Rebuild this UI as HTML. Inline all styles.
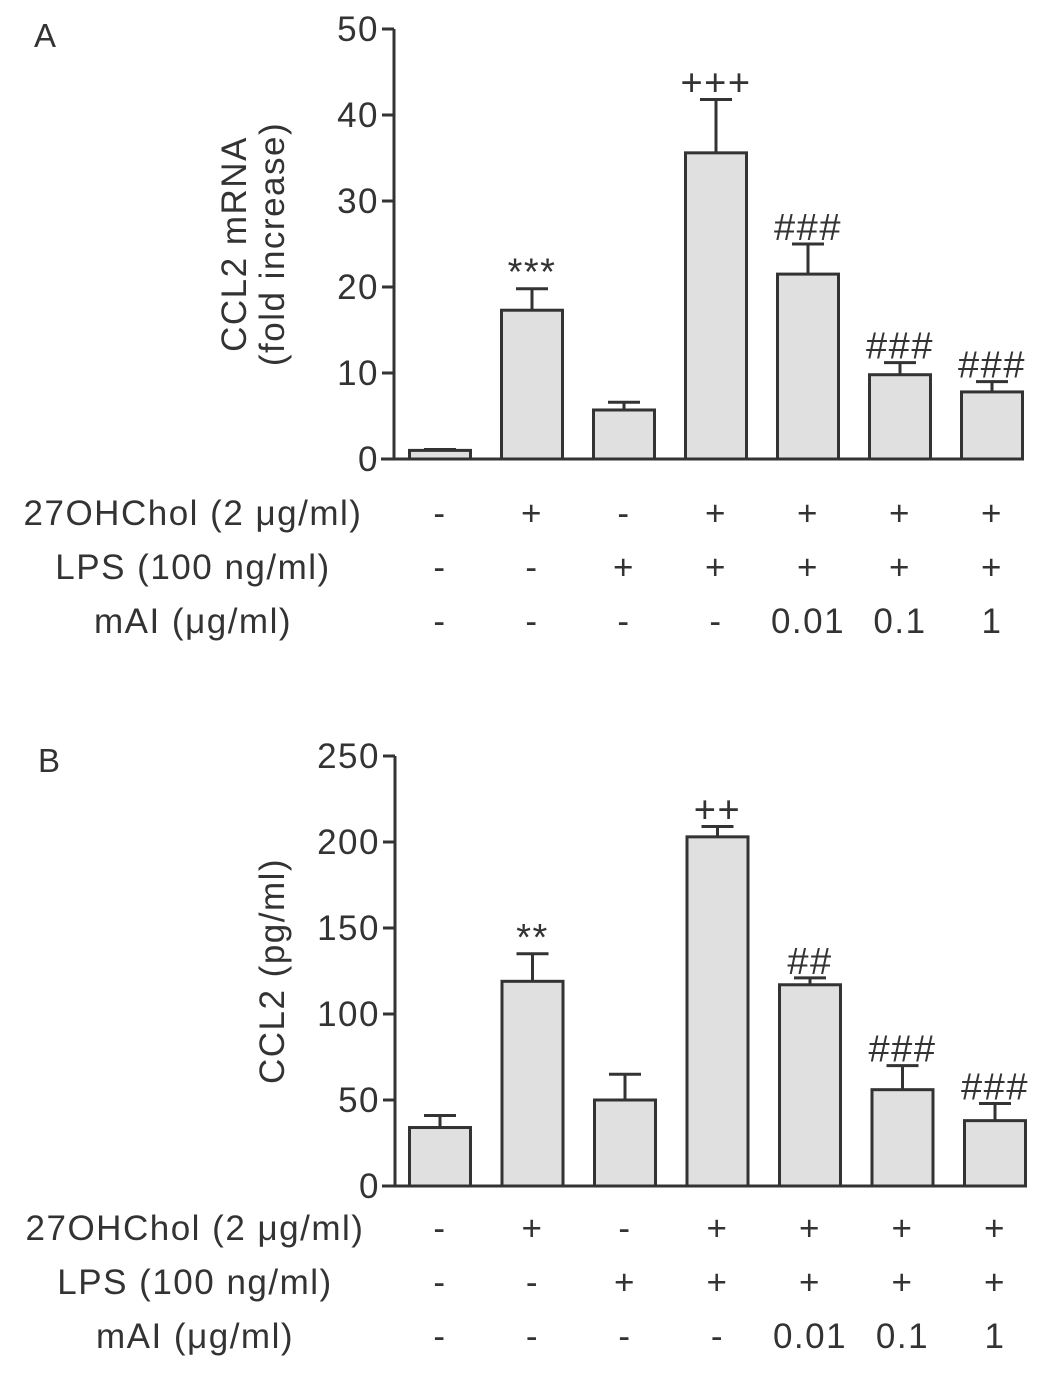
<!DOCTYPE html>
<html><head><meta charset="utf-8"><style>
body{margin:0;background:#fff;}
svg{display:block;font-family:"Liberation Sans",Arial,sans-serif;}
text{letter-spacing:1.5px;}
</style></head><body>
<svg id="chart" width="1063" height="1373"></svg>
<script>
const centers=[440,532,624,716,808,900,992];
const aValues=[1,17.3,5.7,35.6,21.5,9.8,7.8];
const aErrors=[0.1,2.5,0.9,6.2,3.5,1.4,1.2];
const aMarks=["","***","","+++","###","###","###"];
const aTicks=[0,10,20,30,40,50];
const bValues=[34,119,50,203,117,56,38];
const bErrors=[7,16,15,6,4,14,10];
const bMarks=["","**","","++","##","###","###"];
const bTicks=[0,50,100,150,200,250];
const rowChol=["-","+","-","+","+","+","+"];
const rowLPS=["-","-","+","+","+","+","+"];
const rowMAI=["-","-","-","-","0.01","0.1","1"];
const NS="http://www.w3.org/2000/svg";
const svg=document.getElementById('chart');
function mk(t,a,parent){const e=document.createElementNS(NS,t);for(const k in a)e.setAttribute(k,a[k]);(parent||svg).appendChild(e);return e;}
function panel(o){
 const g=mk('g',{});
 
 
 const y=v=>o.y0-(v/o.max)*(o.y0-o.ytop);
 const ax=o.ax;
 mk('line',{x1:ax,y1:o.ytop,x2:ax,y2:o.y0,stroke:'#333','stroke-width':3},g);
 mk('line',{x1:ax-13,y1:o.y0,x2:1023,y2:o.y0,stroke:'#333','stroke-width':3},g);
 o.ticks.forEach(t=>{
  const l=mk('line',{x1:ax-12,y1:y(t),x2:ax,y2:y(t),stroke:'#333','stroke-width':3},g);
  
  const tx=mk('text',{x:ax-15,y:y(t)+12,'text-anchor':'end','font-size':35,fill:'#333'},g);
  tx.textContent=t;
  
  
 });
 o.values.forEach((v,i)=>{
  const c=centers[i]+o.dx*i/6;
  const top=y(v+o.errors[i]);
  const el=mk('line',{x1:c,y1:y(v),x2:c,y2:top,stroke:'#333','stroke-width':3},g);
  
  mk('line',{x1:c-16,y1:top,x2:c+16,y2:top,stroke:'#333','stroke-width':3},g);
  const r=mk('rect',{x:c-30.5,y:y(v),width:61,height:o.y0-y(v),fill:'#e0e0e0',stroke:'#333','stroke-width':3},g);
  
  
  if(o.marks[i]){const m=mk('text',{x:c,y:top-4,'text-anchor':'middle','font-size':38,fill:'#333'},g);m.textContent=o.marks[i];
   }
 });
 const yl=mk('text',{transform:`translate(${o.ylx},${(o.ytop+o.y0)/2}) rotate(-90)`,'text-anchor':'middle','font-size':35,fill:'#333'},g);
 
 o.ylab.forEach((s,k)=>{const ts=mk('tspan',{x:0,dy:k?38:0},yl);ts.textContent=s;});
 const rows=[["27OHChol (2 μg/ml)",rowChol],["LPS (100 ng/ml)",rowLPS],["mAI (μg/ml)",rowMAI]];
 rows.forEach((r,k)=>{
  const ry=o.rowY+k*54;
  const lab=mk('text',{x:o.rowLabX[k],y:ry,'text-anchor':'middle','font-size':35,fill:'#333'},g);
  lab.textContent=r[0];
  
  r[1].forEach((s,i)=>{const t=mk('text',{x:centers[i]+o.dx*i/6,y:ry,'text-anchor':'middle','font-size':35,fill:'#333'},g);t.textContent=s;
   });
 });
 const pl=mk('text',{x:o.letterX,y:o.letterY,'font-size':33,fill:'#333'},g);
 pl.textContent=o.letter;
}
panel({name:'panel-a',ax:394,ytop:29,y0:459,max:50,ticks:aTicks,values:aValues,errors:aErrors,marks:aMarks,dx:0,ylx:246,ylab:["CCL2 mRNA","(fold increase)"],rowY:525,rowLabX:[193,193,193],letter:'A',letterX:34,letterY:47});
panel({name:'panel-b',ax:395,ytop:756,y0:1186,max:250,ticks:bTicks,values:bValues,errors:bErrors,marks:bMarks,dx:3,ylx:284,ylab:["CCL2 (pg/ml)"],rowY:1240,rowLabX:[195,195,195],letter:'B',letterX:38,letterY:772});
</script>
</body></html>
